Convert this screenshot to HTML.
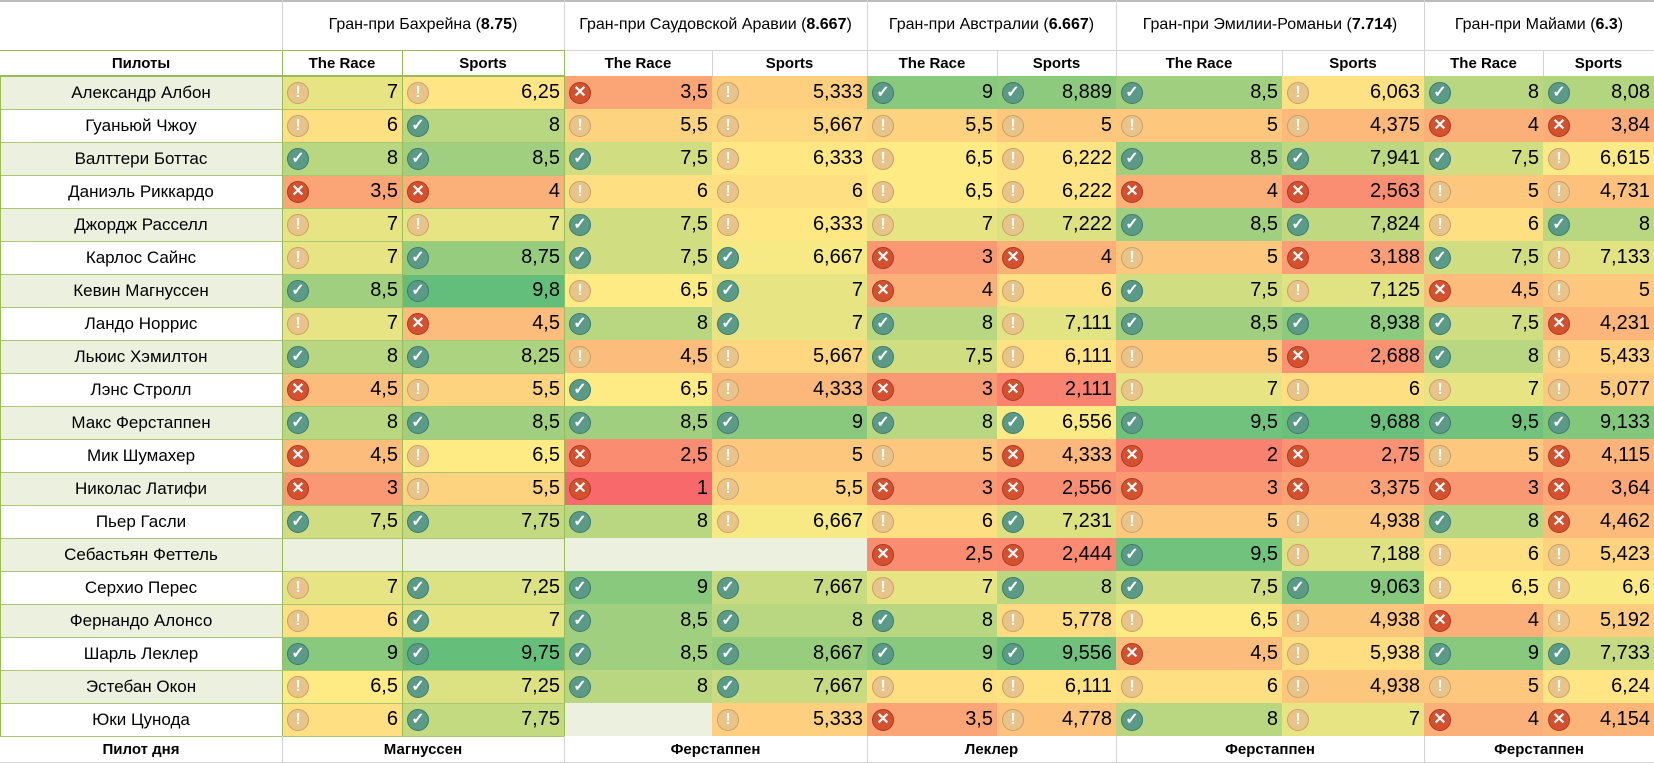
<!DOCTYPE html>
<html><head><meta charset="utf-8">
<style>
html,body{margin:0;padding:0;background:#fff;}
#root{position:relative;width:1654px;height:763px;overflow:hidden;font-family:"Liberation Sans",sans-serif;color:#000;}
.c{position:absolute;box-sizing:border-box;display:flex;align-items:center;}
.num{justify-content:flex-end;padding-right:4px;font-size:20px;}
.nm{justify-content:center;font-size:17px;}
.hd{justify-content:center;font-weight:bold;font-size:15px;}
.gp{justify-content:center;font-size:16px;}
.ic{position:absolute;left:5px;top:50%;margin-top:-11px;width:22px;height:22px;border-radius:50%;box-sizing:border-box;display:flex;align-items:center;justify-content:center;color:#fff;font-weight:bold;font-size:16px;line-height:1;}
.ic.c1{background:#5b9a86;border:1px solid #3f7a68;}
.ic.e1{background:#e8c38a;border:1px solid #c9a068;}
.ic.x1{background:#d5502f;border:1px solid #a93b20;}
.ln{position:absolute;}
</style></head><body>
<div id="root"></div>
<script>
const pilots=["Александр Албон","Гуаньюй Чжоу","Валттери Боттас","Даниэль Риккардо","Джордж Расселл","Карлос Сайнс","Кевин Магнуссен","Ландо Норрис","Льюис Хэмилтон","Лэнс Стролл","Макс Ферстаппен","Мик Шумахер","Николас Латифи","Пьер Гасли","Себастьян Феттель","Серхио Перес","Фернандо Алонсо","Шарль Леклер","Эстебан Окон","Юки Цунода"];
const grandPrix=["Гран-при Бахрейна","Гран-при Саудовской Аравии","Гран-при Австралии","Гран-при Эмилии-Романьи","Гран-при Майами"];
const gpScores=["8.75","8.667","6.667","7.714","6.3"];
const driverOfDay=["Магнуссен","Ферстаппен","Леклер","Ферстаппен","Ферстаппен"];
const values=[
[7,6.25,3.5,5.333,9,8.889,8.5,6.063,8,8.08],
[6,8,5.5,5.667,5.5,5,5,4.375,4,3.84],
[8,8.5,7.5,6.333,6.5,6.222,8.5,7.941,7.5,6.615],
[3.5,4,6,6,6.5,6.222,4,2.563,5,4.731],
[7,7,7.5,6.333,7,7.222,8.5,7.824,6,8],
[7,8.75,7.5,6.667,3,4,5,3.188,7.5,7.133],
[8.5,9.8,6.5,7,4,6,7.5,7.125,4.5,5],
[7,4.5,8,7,8,7.111,8.5,8.938,7.5,4.231],
[8,8.25,4.5,5.667,7.5,6.111,5,2.688,8,5.433],
[4.5,5.5,6.5,4.333,3,2.111,7,6,7,5.077],
[8,8.5,8.5,9,8,6.556,9.5,9.688,9.5,9.133],
[4.5,6.5,2.5,5,5,4.333,2,2.75,5,4.115],
[3,5.5,1,5.5,3,2.556,3,3.375,3,3.64],
[7.5,7.75,8,6.667,6,7.231,5,4.938,8,4.462],
[null,null,null,null,2.5,2.444,9.5,7.188,6,5.423],
[7,7.25,9,7.667,7,8,7.5,9.063,6.5,6.6],
[6,7,8.5,8,8,5.778,6.5,4.938,4,5.192],
[9,9.75,8.5,8.667,9,9.556,4.5,5.938,9,7.733],
[6.5,7.25,8,7.667,6,6.111,6,4.938,5,6.24],
[6,7.75,null,5.333,3.5,4.778,8,7,4,4.154]];
const icons=["eexecccecc","eceeeeeexx","ccceeeccce","xxeeeexxee","eeceeeccec","ecccxxexce","ccecxecexe","excccecccx","cceeceexce","xecexxeeee","cccccccccc","xexeexxxex","xexexxxxxx","ccceeceecx","----xxceee","ecccecccee","ecccceeexe","ccccccxecc","eccceeeeee","ec-execexx"];
const X=[282,402,564,712,867,997,1116,1282,1424,1543,1654];
const H1=50,H2=76,RH=33;
const root=document.getElementById('root');
function mk(cls,x,y,w,h,txt){const d=document.createElement('div');d.className=cls;d.style.left=x+'px';d.style.top=y+'px';d.style.width=w+'px';d.style.height=h+'px';if(txt!=null)d.innerHTML=txt;root.appendChild(d);return d;}
function line(x,y,w,h,col){const d=mk('ln',x,y,w,h);d.style.background=col;return d;}
function lerp(a,b,t){return a.map((v,i)=>Math.round(v+(b[i]-v)*t));}
const RED=[248,105,107],YEL=[255,235,132],GRN=[99,190,123];
function globalScale(){const v=[].concat(...values).filter(x=>x!=null).sort((a,b)=>a-b);const n=v.length;const m=n%2?v[(n-1)/2]:(v[n/2-1]+v[n/2])/2;return {min:v[0],mid:m,max:v[n-1]};}
const S=globalScale();
function color(val,s){let c;if(val<=s.mid){const t=(val-s.min)/(s.mid-s.min);c=lerp(RED,YEL,t);}else{const t=(val-s.mid)/(s.max-s.mid);c=lerp(YEL,GRN,t);}return 'rgb('+c.join(',')+')';}
grandPrix.forEach((g,i)=>{const d=mk('c gp',X[i*2],0,X[i*2+2]-X[i*2],H1,g+' (<b>'+gpScores[i]+'</b>)');

});
const ph=mk('c hd',0,H1,X[0],H2-H1,'Пилоты');


for(let i=0;i<10;i++){const d=mk('c hd',X[i],H1,X[i+1]-X[i],H2-H1,i%2?'Sports':'The Race');

}
pilots.forEach((p,r)=>{const y=H2+r*RH;
const n=mk('c nm',0,y,X[0],RH,p);n.style.background=r%2?'#fff':'#ebf1de';


for(let ci=0;ci<10;ci++){const v=values[r][ci];const d=mk('c num',X[ci],y,X[ci+1]-X[ci],RH,v==null?'':String(v).replace('.',','));


if(v==null){d.style.background='#ebf1de';continue;}
d.style.background=color(v,S);
const t=icons[r][ci];const ic=document.createElement('div');
ic.className='ic '+(t==='c'?'c1':t==='x'?'x1':'e1');
ic.textContent=t==='c'?'✓':t==='x'?'✕':'!';


d.appendChild(ic);}});
const fy=H2+20*RH;
const fh=mk('c hd',0,fy,X[0],763-fy-1,'Пилот дня');


driverOfDay.forEach((p,i)=>{const d=mk('c hd',X[i*2],fy,X[i*2+2]-X[i*2],763-fy-1,p);

});
line(0,0,1654,2,'#bbb');
for(let i=0;i<5;i++)line(X[i*2],0,1,H1,'#d4d4d4');
line(0,H1,X[2],1,'#9bbb59');line(X[2],H1,1654-X[2],1,'#d4d4d4');
line(0,H2-1,X[2],2,'#9bbb59');
for(let i=0;i<10;i++)line(X[i],H1,1,H2-H1,i<3?'#9bbb59':'#d4d4d4');
for(let r=1;r<=20;r++)line(0,H2+r*RH,X[2],1,'#a9c672');
line(X[0],H2,1,20*RH,'#9bbb59');line(X[1],H2,1,20*RH,'#9bbb59');line(X[2],H2,1,20*RH,'#9bbb59');
line(0,H2,1,20*RH,'#9bbb59');
for(let i=0;i<5;i++)line(X[i*2],fy,1,763-fy,'#d4d4d4');
line(0,762,1654,1,'#d4d4d4');
</script>
</body></html>
